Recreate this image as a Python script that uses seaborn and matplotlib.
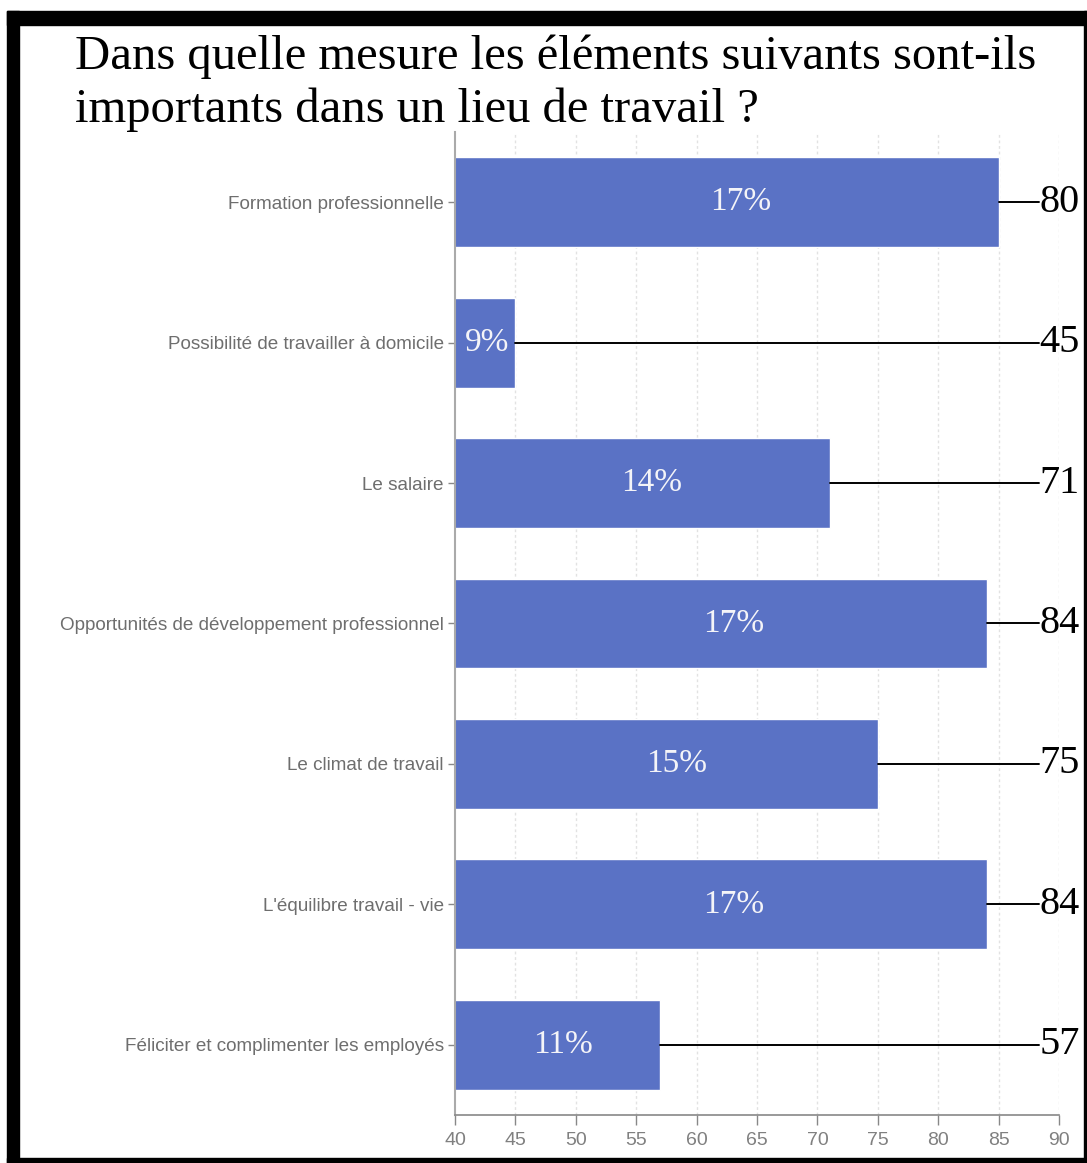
import matplotlib
matplotlib.use("Agg")
import matplotlib.pyplot as plt
import seaborn as sns
import pandas as pd

# Survey results: importance of each element in a workplace
categories = [
    "Formation professionnelle",
    "Possibilité de travailler à domicile",
    "Le salaire",
    "Opportunités de développement professionnel",
    "Le climat de travail",
    "L'équilibre travail - vie",
    "Féliciter et complimenter les employés",
]
scores = [85, 45, 71, 84, 75, 84, 57]
# Totals printed at the right of each bar
printed_totals = [80, 45, 71, 84, 75, 84, 57]
x_ticks = [40, 45, 50, 55, 60, 65, 70, 75, 80, 85, 90]

title = "Dans quelle mesure les éléments suivants sont-ils\nimportants dans un lieu de travail ?"

df = pd.DataFrame({"categorie": categories, "score": scores})
total = sum(scores)
shares = [round(v / total * 100) for v in scores]

sns.set_theme(style="white")
plt.rcParams["font.family"] = ["Liberation Sans", "DejaVu Sans"]

fig = plt.figure(figsize=(10.87, 11.63), dpi=100)
ax = fig.add_axes([0.4186, 0.0413, 0.5557, 0.8452])

bar_color = "#5a72c5"
sns.barplot(data=df, x="score", y="categorie", orient="h", color=bar_color,
            saturation=1, width=0.64, ax=ax)

ax.set_xlim(40, 90)
ax.set_ylim(6.5, -0.5)
ax.set_xticks(x_ticks)
ax.set_xlabel("")
ax.set_ylabel("")

# dotted vertical grid
for t in x_ticks[1:]:
    ax.axvline(t, color="#e2e2e2", lw=1.0, ls=(0, (2, 2)), zorder=0)

for side in ["top", "right"]:
    ax.spines[side].set_visible(False)
ax.spines["left"].set_color("#aaaaaa")
ax.spines["left"].set_linewidth(1.5)
ax.spines["bottom"].set_color("#888888")
ax.spines["bottom"].set_linewidth(1.2)

ax.tick_params(axis="y", length=5, width=1, color="#888888", pad=3,
               labelsize=13.6, labelcolor="#6e6e6e", left=True)
ax.tick_params(axis="x", length=7, width=1, color="#888888", pad=5,
               labelsize=14, labelcolor="#808080", bottom=True)

serif = ["Liberation Serif", "DejaVu Serif"]

for i, (v, pct, lab) in enumerate(zip(scores, shares, printed_totals)):
    ax.text((40 + v) / 2 + 0.05 * (v - 40) / 2, i, f"{pct}%", ha="center",
            va="center", color="#f4f4f8", fontsize=24, family=serif)
    ax.plot([v, 88.3], [i, i], color="black", lw=1.4, clip_on=False, zorder=3)
    ax.text(88.4, i, f"{lab}", ha="left", va="center", color="black",
            fontsize=29, family=serif, clip_on=False)

fig.text(0.069, 0.970, title, ha="left", va="top", fontsize=35,
         family=serif, color="black", linespacing=1.24)

# black frame round the picture
frame = dict(color="black", transform=fig.transFigure, clip_on=False)
fig.add_artist(plt.Rectangle((0.0064, 1 - 25 / 1163), 1, 14 / 1163, **frame))
fig.add_artist(plt.Rectangle((0.0064, 0), 12 / 1087, 1 - 11 / 1163, **frame))
fig.add_artist(plt.Rectangle((0.0064, 0), 1, 5 / 1163, **frame))
fig.add_artist(plt.Rectangle((1 - 3 / 1087, 0), 3 / 1087, 1 - 11 / 1163, **frame))

fig.savefig("out.png", dpi=100)
